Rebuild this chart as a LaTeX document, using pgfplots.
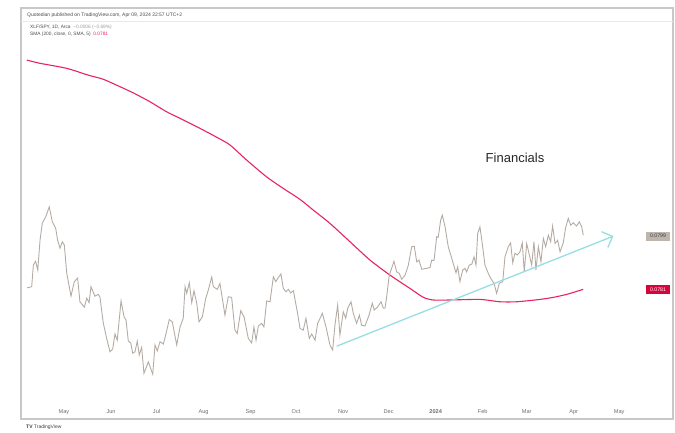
\documentclass[border=0pt]{standalone}
\usepackage{fontspec}
\setmainfont{Liberation Sans}
\usepackage{pgfplots}
\pgfplotsset{compat=1.18}
\usetikzlibrary{arrows.meta}
\definecolor{pricegray}{RGB}{180,172,164}
\definecolor{smared}{RGB}{232,36,96}
\definecolor{trendcyan}{RGB}{150,222,226}
\definecolor{framegray}{RGB}{200,200,200}
\definecolor{labelgray}{RGB}{110,110,110}
\definecolor{boxgray}{RGB}{190,181,172}
\definecolor{boxred}{RGB}{214,4,60}

\begin{document}
\begin{tikzpicture}
% chart frame
\draw[framegray, line width=1.5pt] (21pt,13pt) rectangle (673pt,424pt);
\draw[framegray!40, line width=0.4pt] (21pt,411pt) -- (673pt,411pt);

\begin{axis}[
  name=main,
  at={(26pt,32pt)}, anchor=south west,
  scale only axis, width=614pt, height=379pt,
  xmin=-25.05, xmax=379.7,
  ymin=0.07436, ymax=0.08717,
  axis line style={draw=none},
  major tick length=0pt,
  ytick=\empty,
  xtick={0,31,61,92,123,153,184,214,245,276,305,336,366},
  xticklabels={May,Jun,Jul,Aug,Sep,Oct,Nov,Dec,\textbf{2024},Feb,Mar,Apr,May},
  xticklabel style={font=\fontsize{5.6}{6}\selectfont, text=labelgray,
    anchor=center, yshift=-11pt, text height=1.4ex, text depth=0.3ex},
  clip=false,
]
% SMA (200)
\addplot[smared, line width=1.1pt, smooth, tension=0.4] coordinates {
(-24.6,0.08585) (-15.8,0.08574) (1.8,0.08557) (16.0,0.08534) (25.9,0.08520)
(36.9,0.08495) (45.7,0.08474) (56.7,0.08444) (67.7,0.08410) (76.5,0.08388)
(89.7,0.08354) (100.7,0.08324) (109.4,0.08298) (120.4,0.08247) (133.6,0.08190)
(144.6,0.08151) (155.6,0.08114) (164.3,0.08078) (175.3,0.08033) (188.5,0.07971)
(201.7,0.07909) (214.9,0.07858) (228.1,0.07813) (236.9,0.07783) (243.4,0.07774)
(254.4,0.07774) (274.2,0.07776) (287.4,0.07768) (298.4,0.07768) (313.8,0.07776)
(322.6,0.07783) (331.4,0.07793) (342.3,0.07810)
};
% XLF/SPY
\addplot[pricegray, line width=0.9pt] coordinates {
(-24.4,0.07815) (-21.3,0.07819) (-20.2,0.07892) (-18.7,0.07905) (-17.3,0.07875)
(-15.8,0.07976) (-14.3,0.08034) (-12.1,0.08055) (-9.7,0.08089) (-7.7,0.08038)
(-5.5,0.08017) (-4.2,0.07976) (-2.6,0.07949) (-1.1,0.07971) (0.2,0.07960)
(1.8,0.07865) (4.6,0.07787) (6.8,0.07836) (9.0,0.07848) (10.5,0.07768)
(13.4,0.07750) (15.0,0.07780) (16.5,0.07765) (17.8,0.07819) (20.4,0.07787)
(22.6,0.07793) (23.7,0.07784) (25.9,0.07696) (28.1,0.07645) (30.3,0.07599)
(32.1,0.07608) (33.6,0.07659) (35.1,0.07638) (37.6,0.07771) (39.6,0.07717)
(40.9,0.07706) (42.4,0.07635) (44.0,0.07629) (45.3,0.07594) (46.8,0.07599)
(48.3,0.07635) (49.6,0.07588) (51.2,0.07614) (52.7,0.07526) (55.6,0.07565)
(58.5,0.07523) (60.0,0.07622) (61.5,0.07602) (63.3,0.07633) (65.5,0.07625)
(67.2,0.07659) (69.4,0.07708) (71.4,0.07700) (74.3,0.07622) (76.5,0.07683)
(78.6,0.07712) (79.8,0.07819) (80.9,0.07796) (82.6,0.07832) (84.2,0.07765)
(85.7,0.07805) (87.5,0.07763) (89.0,0.07700) (91.2,0.07717) (93.4,0.07779)
(95.1,0.07807) (97.4,0.07852) (98.4,0.07819) (101.1,0.07810) (102.8,0.07830)
(106.1,0.07723) (108.3,0.07785) (110.5,0.07783) (112.7,0.07672) (114.2,0.07661)
(116.5,0.07738) (118.7,0.07717) (121.5,0.07644) (123.7,0.07629) (125.2,0.07683)
(126.6,0.07638) (128.1,0.07686) (130.3,0.07695) (131.8,0.07683) (133.6,0.07771)
(135.8,0.07768) (138.0,0.07852) (139.6,0.07836) (141.3,0.07850) (143.0,0.07862)
(144.6,0.07813) (146.3,0.07802) (147.9,0.07810) (149.4,0.07798) (151.2,0.07805)
(153.8,0.07734) (155.6,0.07678) (157.7,0.07672) (159.5,0.07712) (161.7,0.07644)
(163.3,0.07659) (165.5,0.07638) (167.2,0.07695) (168.8,0.07712) (170.3,0.07729)
(172.7,0.07683) (175.3,0.07622) (177.1,0.07605) (178.6,0.07689) (180.4,0.07757)
(181.9,0.07655) (184.1,0.07734) (185.7,0.07712) (187.0,0.07746) (189.2,0.07768)
(190.7,0.07729) (192.9,0.07695) (194.7,0.07723) (196.2,0.07689) (198.4,0.07686)
(201.1,0.07723) (203.2,0.07763) (204.5,0.07740) (206.8,0.07751) (209.0,0.07768)
(210.5,0.07746) (211.6,0.07746) (212.7,0.07785) (214.4,0.07858) (216.0,0.07881)
(217.5,0.07905) (219.3,0.07869) (221.0,0.07864) (222.6,0.07844) (224.8,0.07858)
(227.0,0.07892) (229.2,0.07954) (230.9,0.07956) (232.5,0.07903) (234.0,0.07909)
(235.8,0.07878) (239.1,0.07881) (241.3,0.07884) (242.4,0.07909) (243.9,0.07907)
(245.7,0.07988) (246.7,0.07986) (248.3,0.08044) (249.4,0.08061) (251.2,0.08021)
(253.3,0.07954) (255.6,0.07915) (258.4,0.07866) (259.5,0.07886) (261.0,0.07836)
(262.8,0.07875) (264.3,0.07881) (265.4,0.07869) (267.2,0.07892) (268.8,0.07895)
(270.3,0.07920) (271.6,0.07892) (272.7,0.07999) (274.2,0.08021) (275.7,0.07965)
(277.5,0.07892) (279.7,0.07864) (281.3,0.07847) (283.5,0.07830) (285.2,0.07796)
(286.9,0.07830) (289.2,0.07836) (290.7,0.07920) (292.9,0.07954) (294.4,0.07967)
(295.8,0.07900) (297.3,0.07932) (298.8,0.07926) (300.6,0.07937) (302.1,0.07967)
(303.4,0.07869) (305.0,0.07965) (306.5,0.07932) (308.3,0.07892) (309.8,0.07971)
(311.1,0.07875) (312.7,0.07954) (314.4,0.07903) (316.0,0.07982) (317.5,0.07954)
(319.3,0.07993) (320.8,0.07971) (322.1,0.08024) (323.7,0.07965) (325.4,0.07976)
(327.0,0.07937) (329.1,0.07967) (330.7,0.08019) (332.4,0.08050) (334.0,0.08027)
(335.7,0.08035) (337.9,0.08024) (339.7,0.08038) (341.3,0.08021) (342.3,0.07993)
};
% trend arrow
\addplot[trendcyan, line width=1.3pt, -{Straight Barb[length=8.5pt,width=17pt,line width=1.3pt]}]
  coordinates {(179.8,0.07618) (362.2,0.07990)};
% last-value labels on the price scale
\node[fill=boxgray, text=black!75, font=\fontsize{5.2}{6}\selectfont,
  minimum width=24pt, minimum height=9pt, inner sep=0pt] at (axis cs:391.6,0.0799) {0.0799};
\node[fill=boxred, text=white, font=\fontsize{5.2}{6}\selectfont,
  minimum width=24pt, minimum height=9pt, inner sep=0pt] at (axis cs:391.6,0.0781) {0.0781};
\end{axis}

% header legend
\node[anchor=west, inner sep=0pt, font=\fontsize{5}{6}\selectfont, text=black!70] at (27pt,417pt)
  {Quotedian published on TradingView.com, Apr 09, 2024 22:57 UTC+2};
\node[anchor=west, inner sep=0pt, font=\fontsize{4.8}{6}\selectfont, text=black!70] at (30pt,404.5pt)
  {XLF/SPY, 1D, Arca\ \ \textcolor{pricegray!90!black}{−0.0006 (−0.69\%)}};
\node[anchor=west, inner sep=0pt, font=\fontsize{4.8}{6}\selectfont, text=black!70] at (30pt,398pt)
  {SMA (200, close, 0, SMA, 5)\ \ \textcolor{smared}{0.0781}};
% title
\node[font=\fontsize{13}{15}\selectfont, text=black!85] at (515pt,274pt) {Financials};
% footer
\node[anchor=west, inner sep=0pt, font=\fontsize{5}{6}\selectfont, text=black!75] at (26pt,5pt)
  {\textbf{TV}\ TradingView};
\pgfresetboundingbox
\useasboundingbox (0pt,0pt) rectangle (675pt,432pt);
\end{tikzpicture}
\end{document}
